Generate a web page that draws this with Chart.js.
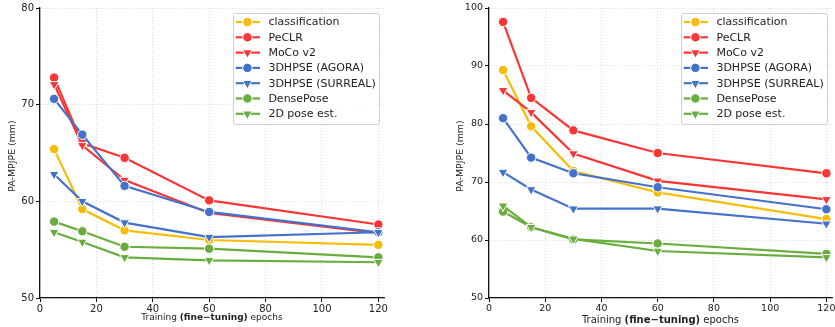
<!DOCTYPE html>
<html>
<head>
<meta charset="utf-8">
<script src="https://cdn.jsdelivr.net/npm/chart.js@4/dist/chart.umd.min.js"></script>
<style>
  html, body { margin: 0; padding: 0; background: #fff; width: 835px; height: 327px; overflow: hidden; }
  #wrap { position: relative; width: 835px; height: 327px; overflow: hidden; }
  #leftBox { position: absolute; left: 0; top: 0; width: 420px; height: 327px; }
  #rightBox { position: absolute; left: 420px; top: 0; width: 430px; height: 327px; }
</style>
</head>
<body>
<div id="wrap">
  <div id="leftBox"><canvas id="leftChart"></canvas></div>
  <div id="rightBox"><canvas id="rightChart"></canvas></div>
</div>
<script>
// x values (fine-tuning epochs)
const epochs = [5, 15, 30, 60, 120];
const xTicks = [0, 20, 40, 60, 80, 100, 120];
const leftYTicks = [50, 60, 70, 80];
const rightYTicks = [50, 60, 70, 80, 90, 100];

const seriesNames = ['classification', 'PeCLR', 'MoCo v2', '3DHPSE (AGORA)', '3DHPSE (SURREAL)', 'DensePose', '2D pose est.'];
const seriesColors = ['#f5bd07', '#fb3535', '#fb3535', '#4472cb', '#4472cb', '#6aad3f', '#6aad3f'];
const seriesMarkers = ['circle', 'circle', 'tri', 'circle', 'tri', 'circle', 'tri'];

// left panel
const leftClassification = [65.4, 59.2, 57.0, 56.0, 55.5];
const leftPeCLR = [72.8, 66.0, 64.5, 60.1, 57.6];
const leftMoCo = [72.1, 65.8, 62.2, 58.8, 56.7];
const leftAgora = [70.6, 66.9, 61.6, 58.9, 56.8];
const leftSurreal = [62.8, 60.0, 57.8, 56.3, 56.8];
const leftDensePose = [57.9, 56.9, 55.3, 55.1, 54.2];
const leftPose2d = [56.8, 55.8, 54.2, 53.9, 53.7];

// right panel
const rightClassification = [89.3, 79.6, 71.9, 68.2, 63.6];
const rightPeCLR = [97.6, 84.5, 78.9, 75.0, 71.5];
const rightMoCo = [85.8, 82.0, 74.9, 70.2, 67.0];
const rightAgora = [81.0, 74.2, 71.5, 69.1, 65.3];
const rightSurreal = [71.7, 68.7, 65.4, 65.4, 62.8];
const rightDensePose = [64.9, 62.2, 60.1, 59.4, 57.6];
const rightPose2d = [65.9, 62.2, 60.2, 58.1, 57.0];

const leftSeries = [leftClassification, leftPeCLR, leftMoCo, leftAgora, leftSurreal, leftDensePose, leftPose2d];
const rightSeries = [rightClassification, rightPeCLR, rightMoCo, rightAgora, rightSurreal, rightDensePose, rightPose2d];

const FONT = '"DejaVu Sans", "Liberation Sans", sans-serif';
const TEXT = '#222';

function drawMarker(ctx, kind, x, y, color) {
  ctx.save();
  ctx.fillStyle = color;
  ctx.strokeStyle = '#fff';
  ctx.lineWidth = 1;
  ctx.beginPath();
  if (kind === 'circle') {
    ctx.arc(x, y, 4.7, 0, Math.PI * 2);
  } else {
    const r = 5.6;
    ctx.moveTo(x, y + r);
    ctx.lineTo(x - r * 0.866, y - r * 0.5);
    ctx.lineTo(x + r * 0.866, y - r * 0.5);
    ctx.closePath();
  }
  ctx.fill();
  ctx.stroke();
  ctx.restore();
}

// titles and in-plot legend
const overlayPlugin = {
  id: 'overlay',
  afterDraw(chart, args, opts) {
    const ctx = chart.ctx;
    const area = chart.chartArea;

    // y title
    ctx.save();
    ctx.fillStyle = TEXT;
    ctx.font = opts.yTitleSize + 'px ' + FONT;
    ctx.translate(opts.yTitleX, (area.top + area.bottom) / 2 + 3);
    ctx.rotate(-Math.PI / 2);
    ctx.textAlign = 'center';
    ctx.textBaseline = 'middle';
    ctx.fillText('PA-MPJPE (mm)', 0, 0);
    ctx.restore();

    // x title, with bold middle part
    ctx.save();
    ctx.fillStyle = TEXT;
    ctx.textBaseline = 'middle';
    const parts = [['Training ', ''], ['(fine\u2212tuning)', 'bold '], [' epochs', '']];
    let total = 0;
    parts.forEach(p => {
      ctx.font = p[1] + opts.xTitleSize + 'px ' + FONT;
      total += ctx.measureText(p[0]).width;
    });
    let x = (area.left + area.right) / 2 - total / 2;
    parts.forEach(p => {
      ctx.font = p[1] + opts.xTitleSize + 'px ' + FONT;
      ctx.fillText(p[0], x, opts.xTitleY);
      x += ctx.measureText(p[0]).width;
    });
    ctx.restore();

    // legend
    const w = 146, h = 111;
    const x0 = area.right - 5 - w, y0 = 13;
    ctx.save();
    ctx.fillStyle = 'rgba(255,255,255,0.85)';
    ctx.strokeStyle = '#cfcfcf';
    ctx.lineWidth = 1;
    ctx.beginPath();
    ctx.roundRect(x0 + 0.5, y0 + 0.5, w, h, 2);
    ctx.fill();
    ctx.stroke();
    ctx.font = '11px ' + FONT;
    ctx.textBaseline = 'middle';
    seriesNames.forEach((name, i) => {
      const y = y0 + 9 + i * 15.3;
      ctx.strokeStyle = seriesColors[i];
      ctx.lineWidth = 2.2;
      ctx.beginPath();
      ctx.moveTo(x0 + 2.7, y);
      ctx.lineTo(x0 + 27, y);
      ctx.stroke();
      drawMarker(ctx, seriesMarkers[i], x0 + 14.4, y, seriesColors[i]);
      ctx.fillStyle = TEXT;
      ctx.fillText(name, x0 + 35.4, y + 0.5);
    });
    ctx.restore();
  }
};

function makeChart(id, seriesData, yTicks, opts) {
  const datasets = seriesNames.map((name, i) => ({
    label: name,
    data: epochs.map((e, j) => ({ x: e, y: seriesData[i][j] })),
    borderColor: seriesColors[i],
    backgroundColor: seriesColors[i],
    borderWidth: 2.2,
    pointStyle: seriesMarkers[i] === 'circle' ? 'circle' : 'triangle',
    pointRotation: seriesMarkers[i] === 'circle' ? 0 : 180,
    pointRadius: seriesMarkers[i] === 'circle' ? 4.7 : 5.6,
    pointBorderColor: '#fff',
    pointBorderWidth: 1,
    tension: 0,
    order: seriesNames.length - i
  }));

  const gridOpts = {
    color: '#d0d0d0',
    lineWidth: 0.8,
    tickColor: '#111',
    tickLength: 4,
    tickWidth: 1
  };

  return new Chart(document.getElementById(id), {
    type: 'line',
    data: { datasets },
    plugins: [overlayPlugin],
    options: {
      responsive: true,
      maintainAspectRatio: false,
      animation: false,
      events: [],
      layout: { padding: { left: 0, top: 8, right: opts.padRight, bottom: 0 } },
      plugins: {
        legend: { display: false },
        tooltip: { enabled: false },
        overlay: { yTitleX: opts.yTitleX, yTitleSize: 9.4, xTitleY: opts.xTitleY, xTitleSize: opts.xTitleSize }
      },
      scales: {
        x: {
          type: 'linear',
          min: 0,
          max: 122,
          afterBuildTicks: s => { s.ticks = xTicks.map(v => ({ value: v })); },
          afterFit: s => { s.height = 29; },
          grid: gridOpts,
          border: { color: '#111', width: 1.3, dash: [1, 2] },
          ticks: { color: TEXT, font: { family: FONT, size: opts.tickSize }, padding: 1, maxRotation: 0 }
        },
        y: {
          type: 'linear',
          min: yTicks[0],
          max: yTicks[yTicks.length - 1],
          afterBuildTicks: s => { s.ticks = yTicks.map(v => ({ value: v })); },
          afterFit: s => { s.width = opts.yWidth; },
          grid: gridOpts,
          border: { color: '#111', width: 1.3, dash: [1, 2] },
          ticks: { color: TEXT, font: { family: FONT, size: opts.tickSize }, padding: 2 }
        }
      }
    }
  });
}

makeChart('leftChart', leftSeries, leftYTicks, {
  padRight: 36, yWidth: 40, yTitleX: 13, xTitleY: 318, xTitleSize: 9, tickSize: 10
});
makeChart('rightChart', rightSeries, rightYTicks, {
  padRight: 18, yWidth: 69, yTitleX: 41, xTitleY: 320, xTitleSize: 10, tickSize: 9.5
});
</script>
</body>
</html>
